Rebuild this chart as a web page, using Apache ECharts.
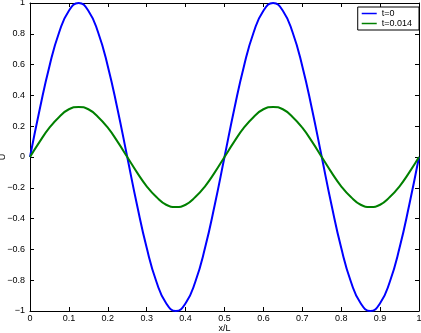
<!DOCTYPE html>
<html><head><meta charset="utf-8">
<script src="https://cdn.jsdelivr.net/npm/echarts@6/dist/echarts.min.js"></script>
<style>html,body{margin:0;padding:0;background:#fff}#c{width:421px;height:333px}</style>
</head><body><div id="c"></div>
<script>
var xVals = [0,0.025,0.05,0.075,0.1,0.125,0.15,0.175,0.2,0.225,0.25,0.275,0.3,0.325,0.35,0.375,0.4,0.425,0.45,0.475,0.5,0.525,0.55,0.575,0.6,0.625,0.65,0.675,0.7,0.725,0.75,0.775,0.8,0.825,0.85,0.875,0.9,0.925,0.95,0.975,1];
var u0 = [0,0.31,0.59,0.81,0.95,1,0.95,0.81,0.59,0.31,0,-0.31,-0.59,-0.81,-0.95,-1,-0.95,-0.81,-0.59,-0.31,0,0.31,0.59,0.81,0.95,1,0.95,0.81,0.59,0.31,0,-0.31,-0.59,-0.81,-0.95,-1,-0.95,-0.81,-0.59,-0.31,0];
var u1 = [0,0.10,0.19,0.26,0.31,0.325,0.31,0.26,0.19,0.10,0,-0.10,-0.19,-0.26,-0.31,-0.325,-0.31,-0.26,-0.19,-0.10,0,0.10,0.19,0.26,0.31,0.325,0.31,0.26,0.19,0.10,0,-0.10,-0.19,-0.26,-0.31,-0.325,-0.31,-0.26,-0.19,-0.10,0];
var seriesNames = ['t=0','t=0.014'];
var xTicks = [0,0.1,0.2,0.3,0.4,0.5,0.6,0.7,0.8,0.9,1];
var yTicks = [-1,-0.8,-0.6,-0.4,-0.2,0,0.2,0.4,0.6,0.8,1];

function pair(a){ return xVals.map(function(x,i){return [x,a[i]];}); }
function fmt(v){ var s = String(Math.round(v*10)/10); return s.replace('-','\u2212'); }
var font = 'Liberation Sans, Arial, sans-serif';
var lineAx = {show:true, onZero:false, lineStyle:{color:'#000', width:1}};
var tick = {show:true, inside:true, length:4, lineStyle:{color:'#000'}};
var chart = echarts.init(document.getElementById('c'));
chart.setOption({
  animation:false,
  backgroundColor:'#fff',
  grid:{left:30, right:2, top:3, bottom:22, containLabel:false, outerBoundsMode:'none'},
  legend:{
    data:seriesNames, orient:'vertical', right:2, top:7,
    borderColor:'#000', borderWidth:1, backgroundColor:'#fff',
    padding:[2,7,2,4], itemGap:1, itemWidth:15, itemHeight:9,
    icon:'path://M0,0 L20,0 L20,2 L0,2 Z',
    textStyle:{fontFamily:font, fontSize:9, color:'#000'}
  },
  xAxis:[
    {type:'value', min:0, max:1, interval:0.1, position:'bottom',
     name:'x/L', nameLocation:'middle', nameGap:13, nameMoveOverlap:false,
     nameTextStyle:{fontFamily:font, fontSize:9, color:'#000'},
     axisLine:lineAx, axisTick:tick, splitLine:{show:false},
     axisLabel:{fontFamily:font, fontSize:9, color:'#000', margin:3, formatter:fmt}},
    {type:'value', min:0, max:1, interval:0.1, position:'top',
     axisLine:lineAx, axisTick:tick, splitLine:{show:false}, axisLabel:{show:false}}
  ],
  yAxis:[
    {type:'value', min:-1, max:1, interval:0.2, position:'left',
     name:'U', nameLocation:'middle', nameGap:23, nameMoveOverlap:false,
     nameTextStyle:{fontFamily:font, fontSize:9, color:'#000'},
     axisLine:lineAx, axisTick:tick, splitLine:{show:false},
     axisLabel:{fontFamily:font, fontSize:9, color:'#000', margin:5, formatter:fmt}},
    {type:'value', min:-1, max:1, interval:0.2, position:'right',
     axisLine:lineAx, axisTick:tick, splitLine:{show:false}, axisLabel:{show:false}}
  ],
  series:[
    {name:seriesNames[0], type:'line', data:pair(u0), smooth:true, symbol:'none',
     lineStyle:{color:'#0000ff', width:2}, itemStyle:{color:'#0000ff'}},
    {name:seriesNames[1], type:'line', data:pair(u1), smooth:true, symbol:'none',
     lineStyle:{color:'#008000', width:2}, itemStyle:{color:'#008000'}}
  ]
});
</script></body></html>
